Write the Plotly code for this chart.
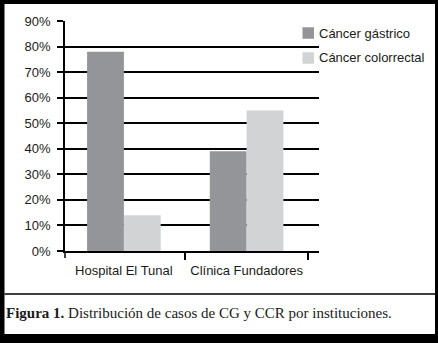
import plotly.graph_objects as go

# ---- data ----
categories = ["Hospital El Tunal", "Clínica Fundadores"]
series_names = ["Cáncer gástrico", "Cáncer colorrectal"]
gastrico = [78, 39]
colorrectal = [14, 55]
y_ticks = [0, 10, 20, 30, 40, 50, 60, 70, 80, 90]
y_tick_labels = [f"{v}%" for v in y_ticks]
caption_bold = "Figura 1."
caption_rest = "Distribución de casos de CG y CCR por instituciones."

W, H = 438, 343
ML, MR, MT, MB = 65, 119, 21, 92
PW, PH = W - ML - MR, H - MT - MB


def px(x):
    return (x - ML) / PW


def py(y):
    return (H - MB - y) / PH


colors = ["#939598", "#d1d3d4"]
text_col = "#1a1a1a"
fig = go.Figure()
for name, vals, col in zip(series_names, [gastrico, colorrectal], colors):
    fig.add_trace(go.Bar(x=categories, y=vals, name=name,
                         marker=dict(color=col, line=dict(width=0))))

shapes = [
    dict(type="rect", xref="paper", yref="paper", layer="below",
         x0=px(4.5), x1=px(435), y0=py(334), y1=py(4),
         fillcolor="white", line=dict(width=0)),
    dict(type="line", xref="paper", yref="paper",
         x0=px(4.5), x1=px(435), y0=py(294), y1=py(294),
         line=dict(color="black", width=1.5)),
    # left category-boundary tick below the axis
    dict(type="line", xref="paper", yref="paper",
         x0=0, x1=0, y0=0, y1=py(H - MB + 7),
         line=dict(color="black", width=1.5)),
]
annotations = [
    dict(xref="paper", yref="paper", x=px(4), y=py(313),
         xanchor="left", yanchor="middle", showarrow=False,
         text=f"<b>{caption_bold}</b> {caption_rest}",
         font=dict(family="Liberation Serif, Times New Roman, serif",
                   size=15, color=text_col)),
]
# legend (drawn manually to match the compact symbol/text spacing)
for i, (name, col) in enumerate(zip(series_names, colors)):
    cy = 33 + i * 25
    shapes.append(dict(type="rect", xref="paper", yref="paper",
                       x0=px(302.5), x1=px(314), y0=py(cy + 5.75), y1=py(cy - 5.75),
                       fillcolor=col, line=dict(width=0)))
    annotations.append(dict(xref="paper", yref="paper", x=px(317), y=py(cy),
                            xanchor="left", yanchor="middle", showarrow=False,
                            text=name, font=dict(size=13, color=text_col)))

fig.update_layout(
    width=W, height=H,
    margin=dict(l=ML, r=MR, t=MT, b=MB, pad=0, autoexpand=False),
    paper_bgcolor="black", plot_bgcolor="white",
    barmode="group", bargap=0.4, bargroupgap=0,
    font=dict(family="Liberation Sans, Arial, sans-serif", size=13, color=text_col),
    showlegend=False,
    hovermode=False,
    xaxis=dict(type="category", range=[-0.48, 1.59], tickson="boundaries",
               ticks="outside", ticklen=7, tickwidth=1.5, tickcolor="black",
               showline=True, linewidth=1.5, linecolor="black", showgrid=False,
               tickangle=0, ticklabelstandoff=7, automargin=False,
               fixedrange=True),
    yaxis=dict(range=[0, 90], tickmode="array", tickvals=y_ticks,
               ticktext=y_tick_labels,
               ticks="outside", ticklen=6, tickwidth=1.5, tickcolor="black",
               showline=True, linewidth=1.5, linecolor="black",
               showgrid=True, gridcolor="black", gridwidth=1.5,
               zeroline=False, ticklabelstandoff=4, automargin=False,
               fixedrange=True),
    shapes=shapes,
    annotations=annotations,
)

fig.write_html("out.html", config={"displayModeBar": False},
               post_script="document.body.style.margin='0';")
